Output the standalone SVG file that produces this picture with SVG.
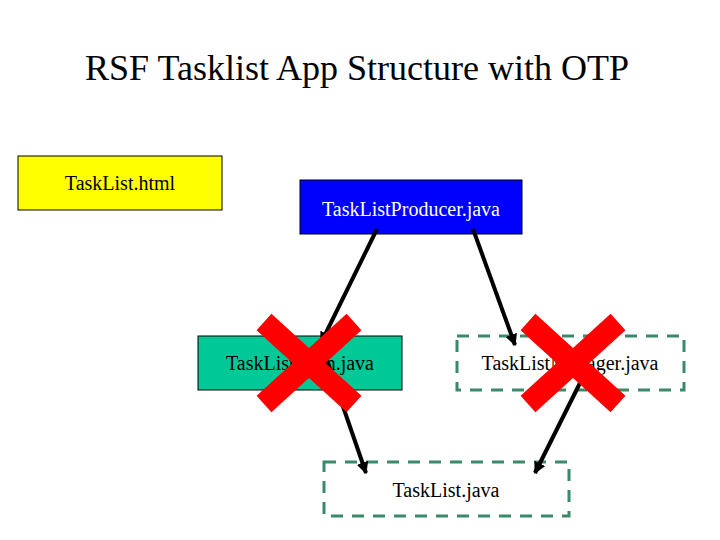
<svg xmlns="http://www.w3.org/2000/svg" width="720" height="540" viewBox="0 0 720 540">
<style>
text{font-family:"Liberation Serif",serif;font-size:20px;text-anchor:middle}
.dash{fill:#fff;stroke:#3a8a6a;stroke-width:3;stroke-dasharray:12,9}
.c{stroke:#000;stroke-width:4;fill:none;marker-end:url(#a)}
.x{stroke:#f00;stroke-width:22}
</style>
<defs><marker id="a" viewBox="0 0 10 10" refX="9" refY="5" markerWidth="3" markerHeight="3" orient="auto"><path d="M0,0L10,5L0,10z" fill="#000"/></marker></defs>
<rect width="720" height="540" fill="#fff"/>
<text x="357" y="80" style="font-size:36px">RSF Tasklist App Structure with OTP</text>
<g id="html"><rect x="18" y="156" width="204" height="54" fill="#ff0" stroke="#000"/><text x="120" y="190">TaskList.html</text></g>
<g id="producer"><rect x="300" y="180" width="222" height="54" fill="#0000ff" stroke="#000"/><text x="411" y="216" fill="#fff">TaskListProducer.java</text></g>
<g id="bean"><rect x="198" y="336" width="204" height="54" fill="#00c896" stroke="#000"/><text x="300" y="370">TaskListBean.java</text></g>
<g id="manager"><rect x="457" y="336" width="227" height="54" class="dash"/><text x="570" y="370">TaskListManager.java</text></g>
<g id="tasklist"><rect x="324" y="462" width="245" height="54" class="dash"/><text x="446" y="497">TaskList.java</text></g>
<g id="connectors">
<line x1="377" y1="229" x2="321" y2="343" class="c"/>
<line x1="473" y1="229" x2="515" y2="345" class="c"/>
<line x1="320" y1="340" x2="366" y2="473" class="c"/>
<line x1="580" y1="383" x2="535" y2="473" class="c"/>
</g>
<g id="crosses">
<path d="M264,322L354,404M354,322L264,404" class="x"/>
<path d="M528,322L618,404M618,322L528,404" class="x"/>
</g>
</svg>
